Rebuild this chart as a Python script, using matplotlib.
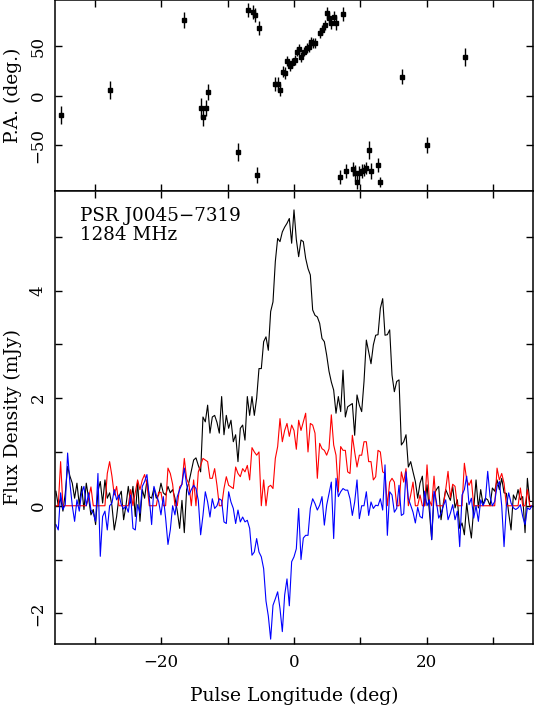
import numpy as np
import matplotlib
matplotlib.use('Agg')
import matplotlib.pyplot as plt
from matplotlib.ticker import MultipleLocator, NullLocator

# 1024 bins per turn, 205-bin window centred on the peak
nbin = 1024
lon = (np.arange(205) - 102) * 360.0 / nbin

# total intensity (mJy)
stokes_I = [
    0.27, 0.00, 0.14, -0.10, 0.23, 0.73, 0.55, 0.42, 0.14, 0.42,
    0.02, 0.36, -0.07, 0.42, 0.14, -0.17, -0.07, -0.35, 0.27, 0.45,
    0.05, 0.48, 0.14, 0.24, 0.00, -0.45, -0.20, 0.17, 0.27, -0.26,
    0.00, 0.36, 0.05, 0.36, -0.20, 0.45, -0.29, 0.30, 0.14, 0.48,
    0.17, 0.14, 0.33, 0.14, 0.20, 0.42, 0.24, 0.20, 0.36, 0.24,
    0.30, 0.14, -0.10, -0.42, 0.10, -0.50, 0.30,
    0.44, 0.65, 0.85, 0.89, 0.75, 0.63, 1.65, 1.56, 1.87, 1.35,
    1.65, 1.68, 1.55, 1.35, 2.03, 1.32, 1.68, 1.44, 1.59, 1.19,
    1.32, 0.82, 1.44, 1.50, 1.22, 2.03, 1.68, 2.03, 1.68, 2.00,
    2.55, 2.55, 3.05, 3.14, 2.89, 3.61, 3.79, 4.54, 4.97, 4.91,
    5.09, 5.18, 5.25, 5.34, 4.88,
    5.50, 4.95, 4.63, 4.94, 4.91, 4.60, 4.41, 4.29, 3.64, 3.54,
    3.51, 3.39, 3.11, 3.05, 2.80, 2.50, 2.30, 2.15, 1.72, 2.03,
    1.75, 2.52, 1.65, 1.84, 1.87, 1.90, 1.31, 2.06, 1.87, 1.75,
    2.31, 3.08, 2.86, 2.64, 2.99, 3.17, 3.18, 3.67, 3.85, 3.17,
    3.18, 3.27, 2.43, 2.12, 2.31, 2.34, 1.13, 1.19, 1.32, 0.72,
    0.82, 0.63, 0.45,
    0.14, 0.42, 0.55, 0.00, 0.39, -0.10, -0.63, 0.20, 0.30, 0.36,
    -0.26, 0.05, 0.30, 0.20, 0.10, 0.36, -0.04, 0.11, -0.42, -0.32,
    -0.54, 0.05, -0.32, -0.60, -0.07, 0.48, -0.04, 0.30, 0.02, 0.14,
    0.11, 0.00, 0.33, 0.27, 0.48, 0.30, 0.51, 0.24, 0.23, -0.14,
    -0.45, 0.20, 0.11, 0.30, 0.11, 0.17, -0.50, 0.51, 0.08, 0.08,
]

# linear polarisation (clipped at zero)
stokes_L = [
    0, 0, 0.82, 0, 0, 0, 0, 0, 0, 0,
    0, 0, 0, 0, 0.15, 0.35, 0, 0, 0, 0,
    0, 0, 0.60, 0.82, 0.55, 0.20, 0.36, 0, 0, 0,
    0, 0, 0.30, 0, 0.25, 0.48, 0.30, 0.48, 0.58, 0.40,
    0, 0, 0, 0, 0.25, 0.25, 0, 0, 0.70, 0.60,
    0.40, 0, 0, 0.35, 0.40, 0.88, 0.50,
    0.40, 0.00, 0.48, 0.00, 0.63, 0.75, 0.88, 0.85, 0.82, 0.51,
    0.51, 0.69, 0.38, 0.00, 0.00, 0.32, 0.54, 0.38, 0.35, 0.32,
    0.72, 0.60, 0.54, 0.69, 0.63, 0.75, 0.48, 1.08, 1.00, 0.94,
    1.00, 0.00, 0.48, 0.00, 0.35, 0.38, 0.32, 0.88, 1.10, 1.62,
    1.19, 1.40, 1.53, 1.29, 1.50,
    1.40, 1.05, 1.59, 1.40, 1.56, 1.72, 1.00, 1.53, 1.50, 1.35,
    0.51, 1.16, 1.06, 1.03, 0.94, 1.06, 1.69, 1.13, 0.94, 0.26,
    1.10, 1.03, 1.03, 0.63, 0.60, 1.31, 1.00, 0.72, 0.94, 0.94,
    1.19, 1.19, 0.82, 0.82, 0.48, 0.54, 1.03, 1.00, 0.63, 0.60,
    0.00, 0.44, 0.51, 0.44, 0.00, 0.00, 0.63, 0.44, 0.69, 0.00,
    0.20, 0.44, 0.00,
    0, 0.20, 0, 0, 0.76, 0.10, 0, 0.55, 0, 0,
    0, 0, 0.30, 0.64, 0.15, 0.40, 0.36, 0, 0, 0,
    0.79, 0.48, 0.38, 0.48, 0, 0, 0, 0, 0, 0,
    0, 0, 0, 0, 0.70, 0.48, 0.60, 0.42, 0, 0,
    0, 0, 0, 0, 0.33, 0, 0, 0.30, 0, 0,
]

# circular polarisation
stokes_V = [
    -0.35, -0.45, 0.24, -0.07, 0.02, 0.98, 0.42, 0.00, -0.29, 0.11,
    -0.10, 0.24, 0.36, 0.00, 0.24, -0.08, -0.14, -0.29, 0.60, -0.94,
    -0.20, -0.10, -0.45, 0.00, 0.05, 0.30, 0.11, 0.20, 0.02, -0.06,
    0.00, -0.12, 0.20, -0.42, -0.45, 0.02, -0.14, 0.36, 0.45, 0.58,
    0.14, -0.35, 0.36, 0.20, 0.08, -0.17, 0.17, -0.23, -0.72, -0.45,
    0.00, -0.17, 0.17, 0.30, 0.40, 0.70, 0.39,
    0.20, 0.30, 0.38, 0.32, 0.10, -0.54, -0.18, 0.26, 0.07, -0.21,
    0.13, -0.05, 0.00, 0.13, 0.10, -0.30, -0.33, 0.26, 0.07, -0.05,
    -0.33, -0.08, -0.30, -0.21, -0.30, -0.27, -0.42, -0.92, -0.86, -0.61,
    -0.86, -0.95, -1.17, -1.77, -2.05, -2.48, -1.85, -1.73, -1.60, -1.91,
    -2.34, -1.66, -1.36, -1.86, -1.04,
    -0.95, -0.80, -0.05, -1.00, -0.60, -0.55, -0.55, -0.05, 0.13, 0.04,
    -0.08, 0.01, 0.17, -0.36, 0.01, 0.23, 0.44, -0.61, 0.51, 0.17,
    0.26, 0.32, 0.29, 0.29, 0.13, -0.18, 0.07, 0.48, -0.24, 0.00,
    0.00, 0.26, -0.18, 0.07, -0.05, 0.01, 0.00, 0.13, -0.08, 0.76,
    -0.55, 0.26, 0.20, -0.12, -0.05, 0.38, -0.18, -0.15, 0.63, 0.13,
    0.01, -0.12, -0.32,
    -0.03, -0.20, -0.23, 0.27, 0.00, 0.11, -0.63, 0.27, 0.08, -0.23,
    -0.14, 0.00, 0.11, -0.26, -0.14, 0.02, -0.26, -0.10, -0.76, 0.20,
    0.30, 0.55, 0.02, 0.14, -0.23, 0.00, -0.29, 0.11, 0.00, 0.10,
    0.64, 0.17, 0.00, 0.08, 0.36, 0.45, 0.00, -0.76, 0.00, 0.24,
    0.05, -0.04, -0.07, -0.04, 0.02, -0.20, -0.35, -0.04, -0.07, 0.00,
]

# position angle points (deg) with errors
pa_lon = [-35.1, -27.7, -16.5, -14.0, -13.7, -13.3, -12.9, -8.4, -7.0, -6.2,
          -5.8, -5.5, -5.2, -2.8, -2.4, -2.1, -1.7, -1.4, -1.0, -0.6,
          -0.3, 0.1, 0.5, 0.8, 1.1, 1.5, 1.9, 2.2, 2.5, 2.9,
          3.2, 3.9, 4.2, 4.6, 5.0, 5.2, 5.6, 6.0, 6.4, 7.0,
          7.4, 7.8, 8.9, 9.2, 9.5, 9.8, 10.2, 10.5, 10.9, 11.3,
          11.6, 12.6, 13.0, 16.2, 20.0, 25.7]
pa_val = [-19.8, 6.0, 76.5, -12.0, -21.0, -12.0, 3.5, -56.3, 86.5, 84.0,
          81.0, -80.2, 68.1, 12.1, 12.1, 6.0, 24.4, 22.8, 35.2, 29.5,
          32.9, 36.2, 44.6, 47.0, 39.5, 44.6, 48.0, 49.6, 54.6, 53.0,
          53.6, 63.1, 66.4, 71.4, 83.2, 78.2, 73.7, 79.8, 73.1, -82.2,
          82.5, -76.2, -73.8, -77.8, -87.2, -77.8, -76.2, -74.4, -72.7, -54.3,
          -75.5, -70.1, -86.8, 19.4, -49.6, 38.9]
pa_err = [9, 9, 8, 10, 9, 8, 8, 9, 7, 7,
          7, 8, 7, 7, 7, 6, 6, 6, 5, 5,
          5, 5, 5, 5, 5, 5, 5, 5, 5, 5,
          5, 5, 5, 5, 6, 6, 6, 6, 7, 7,
          7, 7, 7, 8, 7, 7, 7, 6, 6, 9,
          8, 7, 5, 8, 8, 9]

plt.rcParams['font.family'] = 'DejaVu Serif'
plt.rcParams['font.size'] = 12

fig = plt.figure(figsize=(5.34, 7.08), dpi=100)
ax_pa = fig.add_axes([0.103, 0.7309, 0.8951, 0.2684])
ax = fig.add_axes([0.103, 0.0904, 0.8951, 0.6405])

# PA panel
ax_pa.errorbar(pa_lon, pa_val, yerr=pa_err, fmt='s', color='black',
               ms=3, elinewidth=1, capsize=0)

# profile panel
ax.plot(lon, stokes_I, color='black', lw=0.8)
ax.plot(lon, stokes_L, color='red', lw=0.8)
ax.plot(lon, stokes_V, color='blue', lw=0.8)
ax.text(0.052, 0.963, 'PSR J0045\u22127319\n1284 MHz', transform=ax.transAxes,
        ha='left', va='top', linespacing=1.02, fontsize=13.2)

for a in (ax_pa, ax):
    a.set_xlim(-36, 36)
    a.xaxis.set_major_locator(MultipleLocator(20))
    a.xaxis.set_minor_locator(MultipleLocator(10))
    a.tick_params(which='both', direction='in', top=True, right=True,
                  length=5, width=1)
    a.tick_params(axis='x', pad=7)
    a.tick_params(axis='y', pad=6)
    for s in a.spines.values():
        s.set_linewidth(1.1)

ax_pa.set_ylim(-95.5, 96)
ax_pa.yaxis.set_major_locator(MultipleLocator(50))
ax_pa.yaxis.set_minor_locator(NullLocator())
ax_pa.tick_params(labelbottom=False)
ax_pa.set_ylabel('P.A. (deg.)', fontsize=13.5)
ax_pa.yaxis.set_label_coords(-0.07, 0.5)

ax.set_ylim(-2.57, 5.86)
ax.yaxis.set_major_locator(MultipleLocator(2))
ax.yaxis.set_minor_locator(MultipleLocator(1))
ax.set_ylabel('Flux Density (mJy)', fontsize=13.5)
ax.yaxis.set_label_coords(-0.07, 0.5)
ax.set_xlabel('Pulse Longitude (deg)', fontsize=13.5)
ax.xaxis.set_label_coords(0.5, -0.095)

for a in (ax_pa, ax):
    for t in a.get_yticklabels():
        t.set_rotation(90)
        t.set_verticalalignment('center')

fig.savefig('out.png', dpi=100)
